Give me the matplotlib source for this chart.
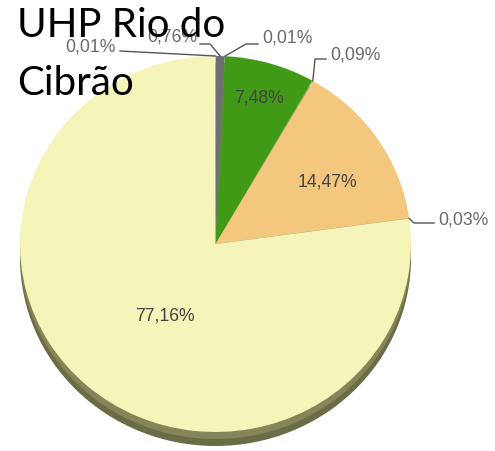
import matplotlib
matplotlib.use('Agg')
import matplotlib.pyplot as plt
from matplotlib.patches import Ellipse
import numpy as np

# slices, clockwise from 12 o'clock
values = [0.76, 0.01, 7.48, 0.09, 14.47, 0.03, 77.16, 0.01]
colors = ['#6f6e76', '#8c8c8c', '#419a16', '#a3b86c', '#f4c77f', '#efd7a0', '#f5f4b9', '#dcdca6']
title_lines = ['UHP Rio do', 'Cibrão']

# picture geometry (pixels)
W, H = 495, 452
cx, cy = 215.5, 245.0
rx, ry = 195.5, 188.0

def px(x, y):
	return ((x - cx) / rx, (cy - y) / ry)

def pct(v):
	return f'{v:.2f}%'.replace('.', ',')

# label placement: index -> (text pos, ha, leader knee points) in pixels
inner_pos = {2: (259, 98), 4: (327, 182), 6: (165, 316)}
outer_pos = {
	7: ((116, 47), 'right', [(120, 52)]),
	0: ((197, 37), 'right', [(210, 45), (200, 45)]),
	1: ((262, 38), 'left', [(246, 45), (258, 45)]),
	3: ((330, 55), 'left', [(315, 60), (326, 60)]),
	5: ((438, 220), 'left', [(414, 224), (434, 224)]),
}

fig = plt.figure(figsize=(W / 100, H / 100), dpi=100)
ax = fig.add_axes([0, 0, 1, 1])

# dark rim under the pie, gives the tilted look
ax.add_patch(Ellipse((0, -14 / ry), 2, 2, color='#6b6b46', zorder=0.5, lw=0))
ax.add_patch(Ellipse((0, -7 / ry), 2, 2, color='#85855a', zorder=0.6, lw=0))

wedges, _ = ax.pie(values, colors=colors, startangle=90, counterclock=False,
	wedgeprops=dict(linewidth=0, zorder=1))

ax.set_aspect('auto')
ax.set_xlim(px(0, 0)[0], px(W, 0)[0])
ax.set_ylim(px(0, H)[1], px(0, 0)[1])
ax.axis('off')

for i, (x, y) in inner_pos.items():
	tx, ty = px(x, y)
	ax.text(tx, ty, pct(values[i]), ha='center', va='center', fontsize=12.7,
		family='Liberation Sans', color='#444444', zorder=3)

for i, ((x, y), ha, knees) in outer_pos.items():
	w = wedges[i]
	a = np.deg2rad((w.theta1 + w.theta2) / 2)
	pts = [(np.cos(a), np.sin(a))] + [px(kx, ky) for kx, ky in knees]
	ax.plot([p[0] for p in pts], [p[1] for p in pts], color='#555555', lw=1, zorder=3)
	tx, ty = px(x, y)
	ax.text(tx, ty, pct(values[i]), ha=ha, va='center', fontsize=12.7,
		family='Liberation Sans', color='#6a6a6a', zorder=3)

fig.text(17 / W, 1 - 37 / H, title_lines[0], fontsize=29, family='Lato', va='baseline', color='black')
fig.text(17 / W, 1 - 95 / H, title_lines[1], fontsize=29, family='Lato', va='baseline', color='black')

fig.savefig('out.png', dpi=100)
